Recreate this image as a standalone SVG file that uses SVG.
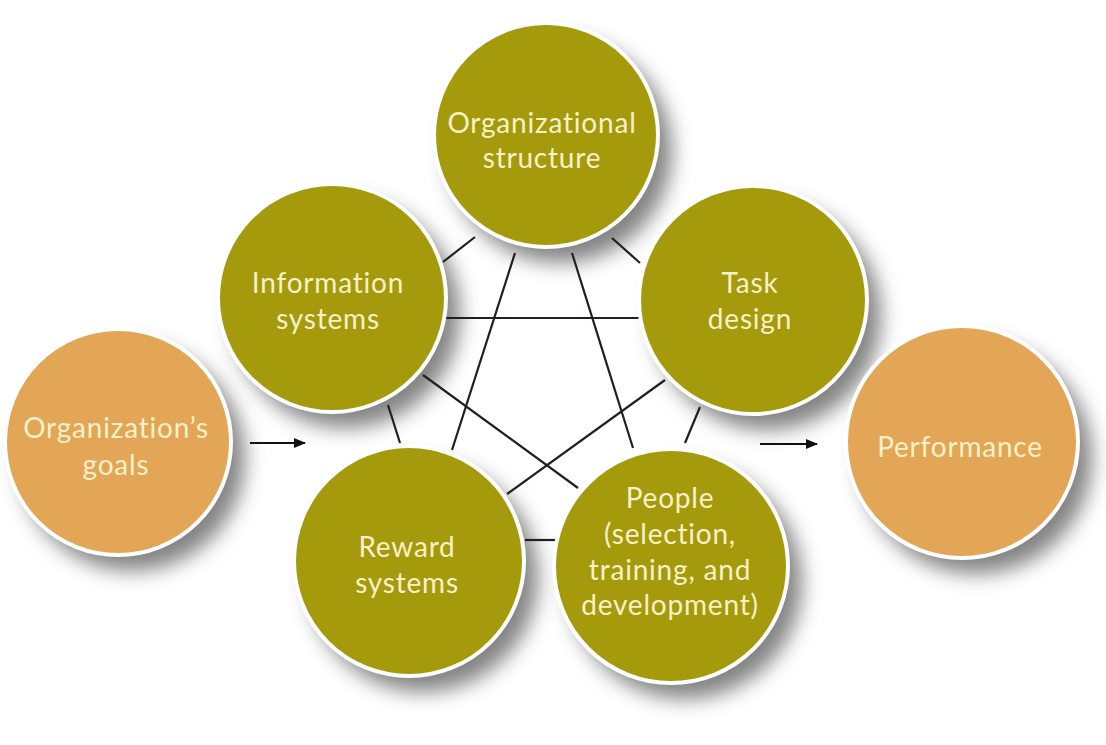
<svg xmlns="http://www.w3.org/2000/svg" width="1106" height="745" viewBox="0 0 1106 745">
<defs>
<filter id="sh" x="-40%" y="-40%" width="180%" height="180%">
<feGaussianBlur stdDeviation="10"/>
</filter>
<marker id="ah" viewBox="0 0 12 10" refX="11" refY="5" markerWidth="12" markerHeight="10" markerUnits="userSpaceOnUse" orient="auto">
<path d="M0,0 L12,5 L0,10 Z" fill="#111"/>
</marker>
<style>
.shadow{fill:#6e6e6e;opacity:0.85;filter:url(#sh)}
.olive{fill:#A59A0B;stroke:#ffffff;stroke-width:4}
.orange{fill:#E2A656;stroke:#ffffff;stroke-width:4}
.lbl{font-family:Lato,"Liberation Sans",sans-serif;font-size:28px;letter-spacing:0.8px;fill:#F7F1C9;text-anchor:middle}
.edge{stroke:#231f20;stroke-width:2.2;fill:none}
.arrow{stroke:#111;stroke-width:2;fill:none;marker-end:url(#ah)}
</style>
</defs>
<rect width="1106" height="745" fill="#ffffff"/>
<g id="shadows">
<circle class="shadow" cx="132" cy="458" r="113"/>
<circle class="shadow" cx="560" cy="151" r="112"/>
<circle class="shadow" cx="346" cy="314" r="114"/>
<circle class="shadow" cx="767" cy="316" r="114"/>
<circle class="shadow" cx="423" cy="577" r="115"/>
<circle class="shadow" cx="685" cy="582" r="117"/>
<circle class="shadow" cx="976" cy="458" r="116"/>
</g>
<g id="connectors">
<line class="edge" x1="475" y1="237" x2="443" y2="262"/>
<line class="edge" x1="612" y1="238" x2="640" y2="263"/>
<line class="edge" x1="515" y1="253" x2="452" y2="450"/>
<line class="edge" x1="572" y1="253" x2="633" y2="448"/>
<line class="edge" x1="446" y1="318" x2="639" y2="318"/>
<line class="edge" x1="423" y1="375" x2="578" y2="488"/>
<line class="edge" x1="665" y1="380" x2="507" y2="494"/>
<line class="edge" x1="388" y1="405" x2="400" y2="443"/>
<line class="edge" x1="700" y1="407" x2="685" y2="443"/>
<line class="edge" x1="525" y1="540" x2="557" y2="540"/>
<line class="arrow" x1="250" y1="443" x2="305" y2="443"/>
<line class="arrow" x1="760" y1="444" x2="817" y2="444"/>
</g>
<g id="org-goals">
<circle class="orange" cx="118" cy="442" r="113"/>
<text class="lbl" x="116" y="438">Organization’s</text>
<text class="lbl" x="116" y="475">goals</text>
</g>
<g id="org-structure">
<circle class="olive" cx="546" cy="135" r="112"/>
<text class="lbl" x="542" y="133">Organizational</text>
<text class="lbl" x="542" y="168">structure</text>
</g>
<g id="info-systems">
<circle class="olive" cx="332" cy="298" r="114"/>
<text class="lbl" x="328" y="293">Information</text>
<text class="lbl" x="328" y="329">systems</text>
</g>
<g id="task-design">
<circle class="olive" cx="753" cy="300" r="114"/>
<text class="lbl" x="750" y="293">Task</text>
<text class="lbl" x="750" y="329">design</text>
</g>
<g id="reward-systems">
<circle class="olive" cx="409" cy="561" r="115"/>
<text class="lbl" x="407" y="557">Reward</text>
<text class="lbl" x="407" y="593">systems</text>
</g>
<g id="people">
<circle class="olive" cx="671" cy="566" r="117"/>
<text class="lbl" x="670" y="508">People</text>
<text class="lbl" x="670" y="544">(selection,</text>
<text class="lbl" x="670" y="580">training, and</text>
<text class="lbl" x="670" y="615">development)</text>
</g>
<g id="performance">
<circle class="orange" cx="962" cy="442" r="116"/>
<text class="lbl" x="960" y="457">Performance</text>
</g>
</svg>
